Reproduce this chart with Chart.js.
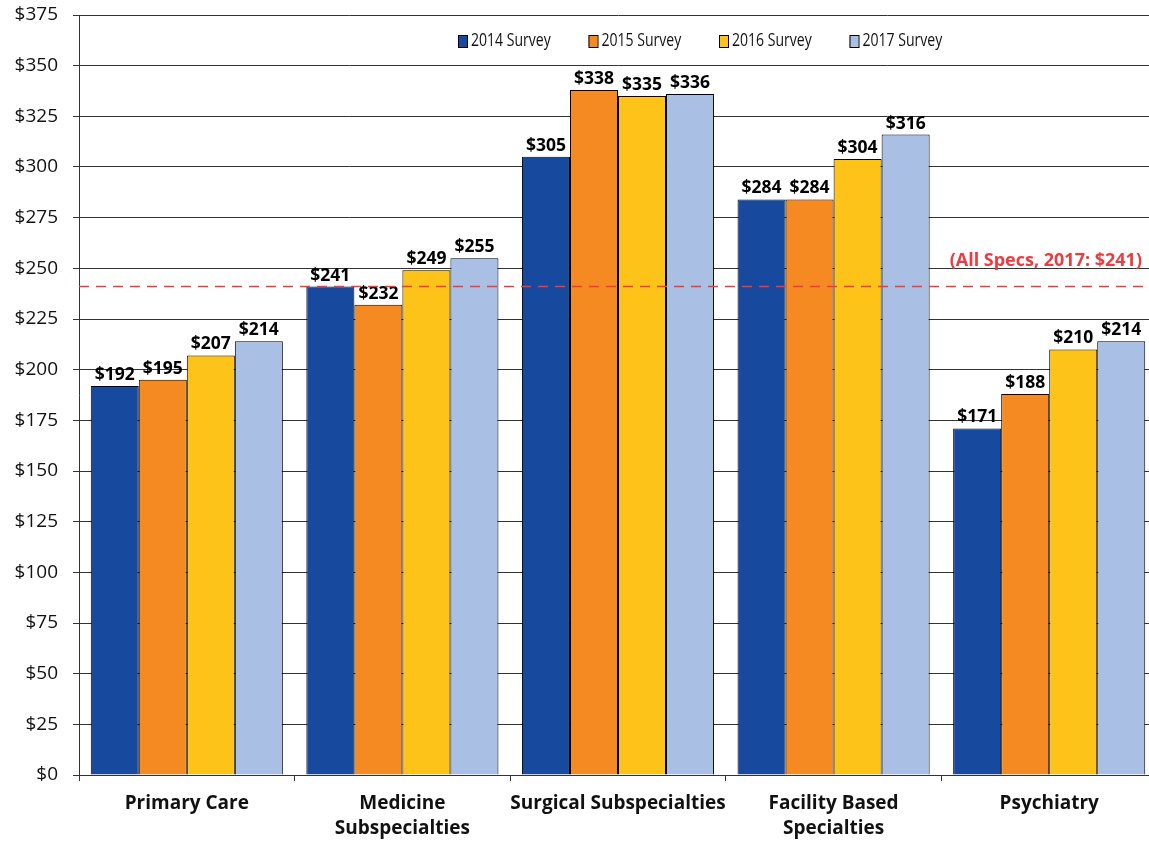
<!DOCTYPE html>
<html lang="en">
<head>
    <meta charset="UTF-8">
    <title>Rates by Specialty Group</title>
    <script src="https://cdn.jsdelivr.net/npm/chart.js"></script>
    <style>
        body {
            margin: 0;
            background: #fff;
            font-family: "Open Sans", Arial, sans-serif;
            overflow: hidden;
        }
        #wrap {
            width: 1149px;
            height: 841px;
            overflow: hidden;
        }
    </style>
</head>
<body>
    <div id="wrap">
        <!-- plot area runs a few pixels past the right edge, as in the original -->
        <canvas id="surveyChart" width="1157" height="841"></canvas>
    </div>

    <script>
        // Categories (multi-line labels as shown under the axis)
        const categories = [
            'Primary Care',
            ['Medicine', 'Subspecialties'],
            'Surgical Subspecialties',
            ['Facility Based', 'Specialties'],
            'Psychiatry'
        ];

        // Series values
        const survey2014 = [192, 241, 305, 284, 171];
        const survey2015 = [195, 232, 338, 284, 188];
        const survey2016 = [207, 249, 335, 304, 210];
        const survey2017 = [214, 255, 336, 316, 214];

        const seriesNames = ['2014 Survey', '2015 Survey', '2016 Survey', '2017 Survey'];
        const seriesColors = ['#174A9E', '#F58A22', '#FDC319', '#A9BFE3'];

        // Reference line for all specialties
        const allSpecsValue = 241;
        const allSpecsLabel = '(All Specs, 2017: $241)';

        const FONT = '"Open Sans", Arial, sans-serif';

        // Value labels above each bar
        const valueLabels = {
            id: 'valueLabels',
            afterDatasetsDraw(chart) {
                const ctx = chart.ctx;
                ctx.save();
                ctx.font = 'bold 17.5px ' + FONT;
                ctx.fillStyle = '#000';
                ctx.textAlign = 'center';
                ctx.textBaseline = 'alphabetic';
                chart.data.datasets.forEach((ds, i) => {
                    chart.getDatasetMeta(i).data.forEach((bar, j) => {
                        ctx.fillText('$' + ds.data[j], bar.x, bar.y - 6);
                    });
                });
                ctx.restore();
            }
        };

        // Dashed red line for the all-specialty average, drawn over the bars
        const averageLine = {
            id: 'averageLine',
            afterDatasetsDraw(chart) {
                const ctx = chart.ctx;
                const area = chart.chartArea;
                const y = chart.scales.y.getPixelForValue(allSpecsValue);
                ctx.save();
                ctx.strokeStyle = '#EE3B3F';
                ctx.lineWidth = 1.5;
                ctx.setLineDash([10, 7]);
                ctx.beginPath();
                ctx.moveTo(area.left, y);
                ctx.lineTo(area.right, y);
                ctx.stroke();
                ctx.setLineDash([]);
                ctx.font = 'bold 18px ' + FONT;
                ctx.fillStyle = '#EE3B3F';
                ctx.textAlign = 'right';
                ctx.textBaseline = 'middle';
                ctx.fillText(allSpecsLabel, 1142, y - 26);
                ctx.restore();
            }
        };

        // Legend inside the plot, top right (text is narrow in the original)
        const insideLegend = {
            id: 'insideLegend',
            afterDraw(chart) {
                const ctx = chart.ctx;
                const startX = 458;
                const step = 130.5;
                const y = 41;
                ctx.save();
                ctx.font = '18px ' + FONT;
                ctx.textBaseline = 'middle';
                ctx.textAlign = 'left';
                chart.data.datasets.forEach((ds, i) => {
                    const x = startX + i * step;
                    ctx.fillStyle = ds.backgroundColor;
                    ctx.fillRect(x, y - 6, 9, 12);
                    ctx.strokeStyle = '#000';
                    ctx.lineWidth = 1;
                    ctx.strokeRect(x + 0.5, y - 5.5, 9, 12);
                    ctx.save();
                    ctx.translate(x + 13, y);
                    ctx.scale(0.78, 1);
                    ctx.fillStyle = '#111';
                    ctx.fillText(ds.label, 0, 0);
                    ctx.restore();
                });
                ctx.restore();
            }
        };

        const allSeries = [survey2014, survey2015, survey2016, survey2017];

        const ctx = document.getElementById('surveyChart').getContext('2d');
        const surveyChart = new Chart(ctx, {
            type: 'bar',
            data: {
                labels: categories,
                datasets: allSeries.map((values, i) => ({
                    label: seriesNames[i],
                    data: values,
                    backgroundColor: seriesColors[i],
                    borderColor: '#000',
                    borderWidth: 1,
                    borderSkipped: 'bottom',
                    categoryPercentage: 0.891,
                    barPercentage: 1.0
                }))
            },
            options: {
                responsive: false,
                animation: false,
                devicePixelRatio: 1,
                layout: {
                    padding: 0
                },
                plugins: {
                    legend: { display: false },
                    tooltip: { enabled: false }
                },
                scales: {
                    x: {
                        afterFit(scale) {
                            scale.height = 66;
                            scale.paddingLeft = 0;
                            scale.paddingRight = 0;
                        },
                        grid: {
                            display: true,
                            drawOnChartArea: false,
                            offset: true,
                            color: '#333',
                            tickLength: 6
                        },
                        border: { color: '#333', width: 1 },
                        ticks: {
                            color: '#111',
                            font: { family: FONT, size: 19, weight: 'bold', lineHeight: 1.32 },
                            maxRotation: 0,
                            autoSkip: false,
                            padding: 10
                        }
                    },
                    y: {
                        afterFit(scale) {
                            scale.width = 79;
                            scale.paddingTop = 15;
                            scale.paddingBottom = 0;
                        },
                        min: 0,
                        max: 375,
                        grid: {
                            color: '#333',
                            lineWidth: 1,
                            tickLength: 6
                        },
                        border: { color: '#333', width: 1 },
                        ticks: {
                            stepSize: 25,
                            color: '#111',
                            padding: 15,
                            font: { family: FONT, size: 19 },
                            callback: v => '$' + v
                        }
                    }
                }
            },
            plugins: [valueLabels, averageLine, insideLegend]
        });
    </script>
</body>
</html>
